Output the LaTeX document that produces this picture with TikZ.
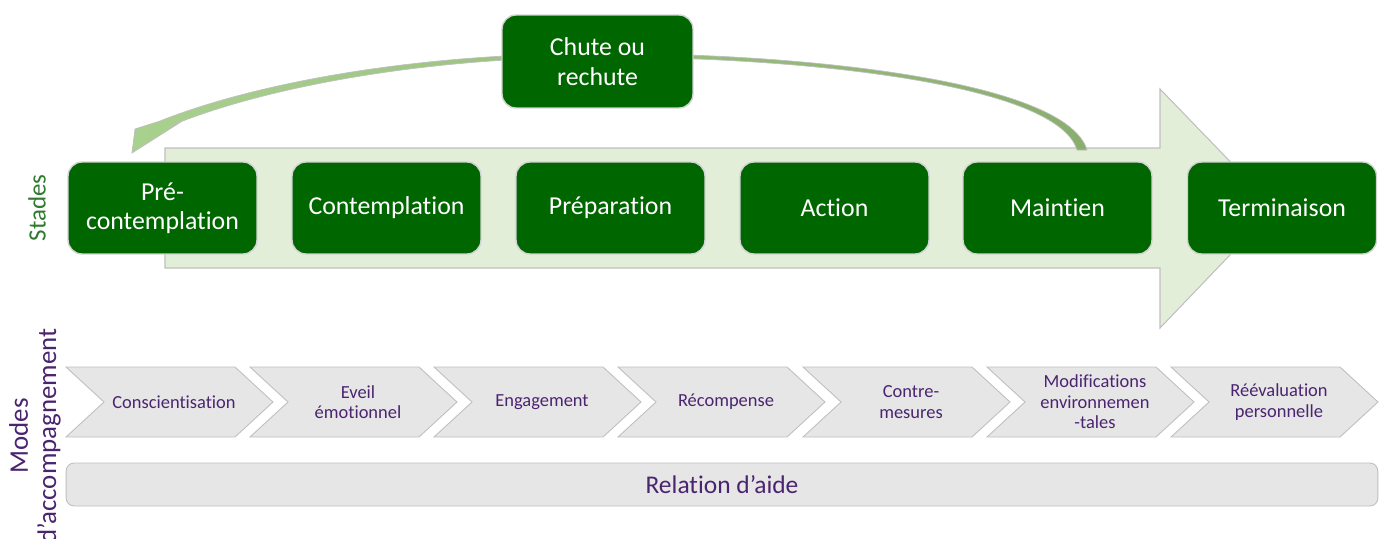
\documentclass[tikz,border=0pt]{standalone}
\usepackage{fontspec}
\setmainfont{Carlito}[Ligatures=NoCommon]
\definecolor{stagegreen}{HTML}{006600}
\definecolor{arrowfill}{HTML}{E3EED9}
\definecolor{curveL}{HTML}{A9D18E}
\definecolor{curveR}{HTML}{8AAE6E}
\definecolor{modepurple}{HTML}{4B2470}
\definecolor{labelgreen}{HTML}{2F7A2F}
\definecolor{chevfill}{HTML}{E6E6E6}
\definecolor{edgegray}{HTML}{BFBFBF}
\tikzset{
  stagebox/.style={draw=edgegray!70!white, line width=0.8pt, fill=stagegreen,
    rounded corners=0.28cm, minimum width=3.78cm, minimum height=1.84cm,
    text=white, align=center, inner sep=0pt,
    font=\fontsize{14.7}{16.5}\selectfont},
  chev/.style={draw=edgegray, line width=0.5pt, fill=chevfill},
  chevtext/.style={text=modepurple, align=center, inner sep=0pt,
    font=\fontsize{10.5}{11.6}\selectfont},
  bigarrow/.style={draw=edgegray, line width=0.6pt, fill=arrowfill},
}
\begin{document}
\begin{tikzpicture}[x=0.02cm, y=-0.02cm]
\useasboundingbox (0,0) rectangle (1382,538);

% large arrow
\draw[bigarrow] (165,148) -- (1160,148) -- (1160,89) -- (1275,208) -- (1160,328)
  -- (1160,268) -- (165,268) -- cycle;

% relapse curve
\path[left color=curveL, right color=curveR, draw=edgegray, line width=0.4pt]
  (1087,150) .. controls (1066,80) and (800,53) .. (600,53.5)
  .. controls (420,53) and (258,82) .. (160,121)
  -- (135,129) -- (132,153) -- (184,120) -- (170,126)
  .. controls (262,88) and (420,57.5) .. (600,57)
  .. controls (800,57) and (1057,83) .. (1077,150) -- cycle;

% stage boxes
\node[stagebox] (s1) at (162.5,208) {Pré-\\contemplation};
\node[stagebox] (s2) at (386.5,208) {Contemplation};
\node[stagebox] (s3) at (610.5,208) {Préparation};
\node[stagebox] (s4) at (834.5,208) {Action};
\node[stagebox] (s5) at (1057.5,208) {Maintien};
\node[stagebox] (s6) at (1282,208) {Terminaison};

\node[stagebox, minimum width=3.82cm, minimum height=1.86cm,
  font=\fontsize{14.7}{17.3}\selectfont] (chute) at (597.5,61.5) {Chute ou\\rechute};

% side labels
\node[rotate=90, text=labelgreen, font=\fontsize{14.2}{16}\selectfont] (stades) at (37,208) {Stades};
\node[rotate=90, text=modepurple, align=center, font=\fontsize{15.3}{16}\selectfont] (modes) at (35,436) {Modes\\d’accompagnement};

% chevrons
\foreach \xl/\txt [count=\i] in {66/Conscientisation, 250/{Eveil\\émotionnel},
    434/Engagement, 618/Récompense, 803/{Contre-\\mesures},
    987/{Modifications\\environnemen\\-tales}, 1171/{Réévaluation\\personnelle}} {
  \draw[chev] (\xl,367) -- ++(169,0) -- ++(38,35) -- ++(-38,35) -- ++(-169,0)
    -- ++(38,-35) -- cycle;
  \node[chevtext] (m\i) at (\xl+108,402) {\txt};
}

% helping relation bar
\node[draw=edgegray, line width=0.5pt, fill=chevfill, rounded corners=0.16cm,
  minimum width=26.24cm, minimum height=0.86cm, inner sep=0pt, text=modepurple,
  font=\fontsize{14.5}{16}\selectfont] (rel) at (722,484.5) {Relation d’aide};
\end{tikzpicture}
\end{document}
